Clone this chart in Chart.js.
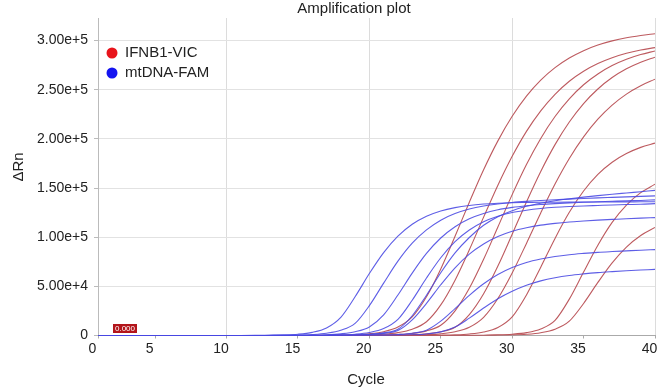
<!DOCTYPE html>
<html><head><meta charset="utf-8">
<script src="https://cdn.jsdelivr.net/npm/chart.js@4/dist/chart.umd.min.js"></script>
<style>html,body{margin:0;padding:0;background:#fff;}canvas{display:block;}</style>
</head><body>
<canvas id="c" width="666" height="391"></canvas>
<script>
// Cycle numbers (x categories)
const cycles = [1,2,3,4,5,6,7,8,9,10,11,12,13,14,15,16,17,18,19,20,21,22,23,24,25,26,27,28,29,30,31,32,33,34,35,36,37,38,39,40];

// ΔRn values, in thousands, one value per cycle
const ifnb1_1 = [0,0,0,0,0,0,0,0,0,0,0,0,0,0,0,0.1,0.2,0.4,0.8,1.8,3.9,8.6,18.9,39.4,67.7,100.9,135.6,168.6,198.0,223.0,243.5,259.8,272.5,282.3,289.8,295.5,299.7,302.9,305.2,307.0];
const ifnb1_2 = [0,0,0,0,0,0,0,0,0,0,0,0,0,0,0,0,0,0.1,0.3,0.6,1.3,2.9,6.4,14.0,31.1,56.3,87.2,120.4,152.9,182.3,207.7,228.6,245.4,258.7,268.9,276.7,282.6,287.1,290.4,292.9];
const ifnb1_3 = [0,0,0,0,0,0,0,0,0,0,0,0,0,0,0,0,0,0,0,0.2,0.4,1.0,2.1,4.7,10.4,25.1,48.0,77.5,110.4,143.3,173.9,200.5,222.8,240.8,255.1,266.1,274.6,281.0,285.8,289.5];
const ifnb1_4 = [0,0,0,0,0,0,0,0,0,0,0,0,0,0,0,0,0,0,0,0,0.2,0.4,0.8,1.7,3.8,8.4,21.3,42.5,70.7,103.0,135.9,166.9,194.2,217.2,236.0,250.8,262.4,271.3,278.0,283.1];
const ifnb1_5 = [0,0,0,0,0,0,0,0,0,0,0,0,0,0,0,0,0,0,0,0,0,0.2,0.4,0.8,1.7,3.8,8.4,18.5,37.6,63.6,93.7,124.7,154.1,180.1,202.1,220.1,234.4,245.6,254.1,260.7];
const ifnb1_6 = [0,0,0,0,0,0,0,0,0,0,0,0,0,0,0,0,0,0,0,0,0,0,0,0.1,0.3,0.7,1.6,3.6,8.2,19.0,41.3,69.5,98.8,125.3,147.0,163.9,176.3,185.1,191.4,195.7];
const ifnb1_7 = [0,0,0,0,0,0,0,0,0,0,0,0,0,0,0,0,0,0,0,0,0,0,0,0,0,0,0.1,0.3,0.6,1.3,2.9,6.7,15.4,37.0,64.5,91.9,115.1,132.7,145.3,153.9];
const ifnb1_8 = [0,0,0,0,0,0,0,0,0,0,0,0,0,0,0,0,0,0,0,0,0,0,0,0,0,0,0,0,0.2,0.5,1.2,2.8,6.4,14.6,32.6,54.0,73.9,90.0,101.8,109.9];

const mtdna_1 = [0,0,0,0,0,0,0,0,0,0,0,0.1,0.3,0.6,1.3,3.2,7.7,18.5,39.4,63.0,84.3,101.0,113.1,121.3,126.7,130.1,132.3,133.7,134.6,135.1,135.3,135.5,135.6,135.7,135.8,135.8,135.9,135.9,136.0,136.0];
const mtdna_2 = [0,0,0,0,0,0,0,0,0,0,0,0,0.1,0.2,0.4,1.0,2.3,5.3,12.3,30.4,53.3,75.6,93.9,107.4,117.3,124.0,128.6,131.7,133.8,135.3,136.4,137.3,138.1,138.7,139.4,140.0,140.5,141.0,141.5,142.0];
const mtdna_3 = [0,0,0,0,0,0,0,0,0,0,0,0,0,0,0.2,0.3,0.7,1.7,3.8,8.7,21.0,41.2,63.5,83.5,99.2,110.7,118.8,124.2,127.9,130.3,132.0,133.3,134.2,134.9,135.5,136.0,136.5,137.0,137.4,138.0];
const mtdna_4 = [0,0,0,0,0,0,0,0,0,0,0,0,0,0,0,0.1,0.3,0.6,1.3,3.0,7.0,16.4,35.9,58.5,79.1,95.5,107.3,115.7,121.3,125.1,127.5,129.2,130.4,131.2,131.8,132.3,132.8,133.2,133.5,134.2];
const mtdna_5 = [0,0,0,0,0,0,0,0,0,0,0,0,0,0,0,0,0.1,0.2,0.5,1.2,2.7,6.3,20.1,41.0,63.8,84.0,99.7,112.1,120.9,127.0,131.4,134.6,137.1,139.1,140.8,142.3,143.7,145.0,146.3,147.6];
const mtdna_6 = [0,0,0,0,0,0,0,0,0,0,0,0,0,0,0,0,0,0.2,0.4,1.0,2.2,5.1,15.9,32.7,51.6,68.9,82.8,93.1,100.7,106.1,109.7,112.3,114.1,115.5,116.5,117.4,118.1,118.8,119.4,119.9];
const mtdna_7 = [0,0,0,0,0,0,0,0,0,0,0,0,0,0,0,0,0,0,0,0.2,0.4,1.0,2.3,5.4,14.6,27.4,40.9,52.7,62.0,69.1,74.3,77.8,80.4,82.2,83.5,84.6,85.4,86.1,86.8,87.4];
const mtdna_8 = [0,0,0,0,0,0,0,0,0,0,0,0,0,0,0,0,0,0,0,0,0.1,0.3,0.7,1.6,3.7,8.6,17.7,27.9,37.4,45.0,51.1,55.6,58.8,61.1,62.7,64.0,65.0,65.9,66.6,67.3];

const ifnb1Series = [ifnb1_1, ifnb1_2, ifnb1_3, ifnb1_4, ifnb1_5, ifnb1_6, ifnb1_7, ifnb1_8];
const mtdnaSeries = [mtdna_1, mtdna_2, mtdna_3, mtdna_4, mtdna_5, mtdna_6, mtdna_7, mtdna_8];

const legendNames = ['IFNB1-VIC', 'mtDNA-FAM'];
const xTickValues = [1,5,10,15,20,25,30,35,40];
const xTickLabels = ['0','5','10','15','20','25','30','35','40'];
const yTickValues = [0,50000,100000,150000,200000,250000,300000];
const yTickLabels = ['0','5.00e+4','1.00e+5','1.50e+5','2.00e+5','2.50e+5','3.00e+5'];
const thresholdValue = 0;
const thresholdLabel = '0.000';
const thresholdLabelCycle = 2.05;

const FONT = 'Liberation Sans, Arial, Helvetica, sans-serif';
const RED_LINE = 'rgba(182,72,78,0.9)';
const BLUE_LINE = 'rgba(72,72,226,0.88)';
const RED_DOT = '#e8141b';
const BLUE_DOT = '#1414f0';

function toPoints(arr){ return cycles.map((c,i)=>({x:c, y:arr[i]*1000})); }

const datasets = [];
mtdnaSeries.forEach((s,i)=>datasets.push({label: legendNames[1]+' '+(i+1), data: toPoints(s), borderColor: BLUE_LINE}));
ifnb1Series.forEach((s,i)=>datasets.push({label: legendNames[0]+' '+(i+1), data: toPoints(s), borderColor: RED_LINE}));

const overlay = {
  id: 'overlay',
  afterDatasetsDraw(chart){
    const ctx = chart.ctx, xs = chart.scales.x, ys = chart.scales.y;
    ctx.save();
    const bx = xs.getPixelForValue(thresholdLabelCycle);
    const by = ys.getPixelForValue(thresholdValue);
    ctx.fillStyle = '#b3151b';
    ctx.fillRect(bx, by - 11.5, 24, 9);
    ctx.fillStyle = '#ffffff';
    ctx.font = '8px ' + FONT;
    ctx.textAlign = 'center'; ctx.textBaseline = 'middle';
    ctx.fillText(thresholdLabel, bx + 12, by - 6.8);
    const lx = chart.chartArea.left + 14, ly = chart.chartArea.top + 35;
    [[RED_DOT, legendNames[0]], [BLUE_DOT, legendNames[1]]].forEach((it, k)=>{
      const yy = ly + k*20;
      ctx.beginPath(); ctx.fillStyle = it[0];
      ctx.arc(lx, yy, 5.5, 0, Math.PI*2); ctx.fill();
      ctx.fillStyle = '#222'; ctx.font = '15px ' + FONT;
      ctx.textAlign = 'left'; ctx.textBaseline = 'middle';
      ctx.fillText(it[1], lx + 13, yy);
    });
    ctx.restore();
  },
  afterDraw(chart){
    const ctx = chart.ctx;
    ctx.save();
    ctx.fillStyle = '#222';
    ctx.font = '15px ' + FONT;
    ctx.textAlign = 'center'; ctx.textBaseline = 'middle';
    ctx.fillText('Amplification plot', 354, 9);
    ctx.fillText('Cycle', 366, 380);
    ctx.translate(19, 167); ctx.rotate(-Math.PI/2);
    ctx.fillText('\u0394Rn', 0, 0);
    ctx.restore();
  }
};

new Chart(document.getElementById('c'), {
  type: 'line',
  data: { datasets },
  options: {
    responsive: false, animation: false, devicePixelRatio: 1,
    layout: { padding: { top: 18, right: 11, left: 0, bottom: 0 } },
    elements: { point: { radius: 0 }, line: { borderWidth: 1.1, tension: 0, cubicInterpolationMode: 'monotone' } },
    plugins: { legend: { display: false }, tooltip: { enabled: false }, title: { display: false } },
    scales: {
      x: {
        type: 'linear', min: 1, max: 40,
        afterBuildTicks: s => { s.ticks = xTickValues.map(v => ({ value: v })); },
        afterFit: s => { s.height = 55.5; },
        ticks: { callback: (v, i) => xTickLabels[i], labelOffset: -5.5, padding: 2, maxRotation: 0, autoSkip: false,
                 font: { size: 14, family: FONT }, color: '#222' },
        grid: { color: c => (c.tick && c.tick.value % 10 === 0) ? '#dcdcdc' : 'rgba(0,0,0,0)', tickLength: 3, tickColor: '#aaa', lineWidth: 1 },
        border: { color: '#aaa' }
      },
      y: {
        min: 0, max: 323000,
        afterBuildTicks: s => { s.ticks = yTickValues.map(v => ({ value: v })); },
        afterFit: s => { s.width = 98; },
        ticks: { callback: (v, i) => yTickLabels[i], padding: 6, font: { size: 14, family: FONT }, color: '#222' },
        grid: { color: '#e2e2e2', tickLength: 4, tickColor: '#bbb' },
        border: { color: '#bbb' }
      }
    }
  },
  plugins: [overlay]
});
</script>
</body></html>
